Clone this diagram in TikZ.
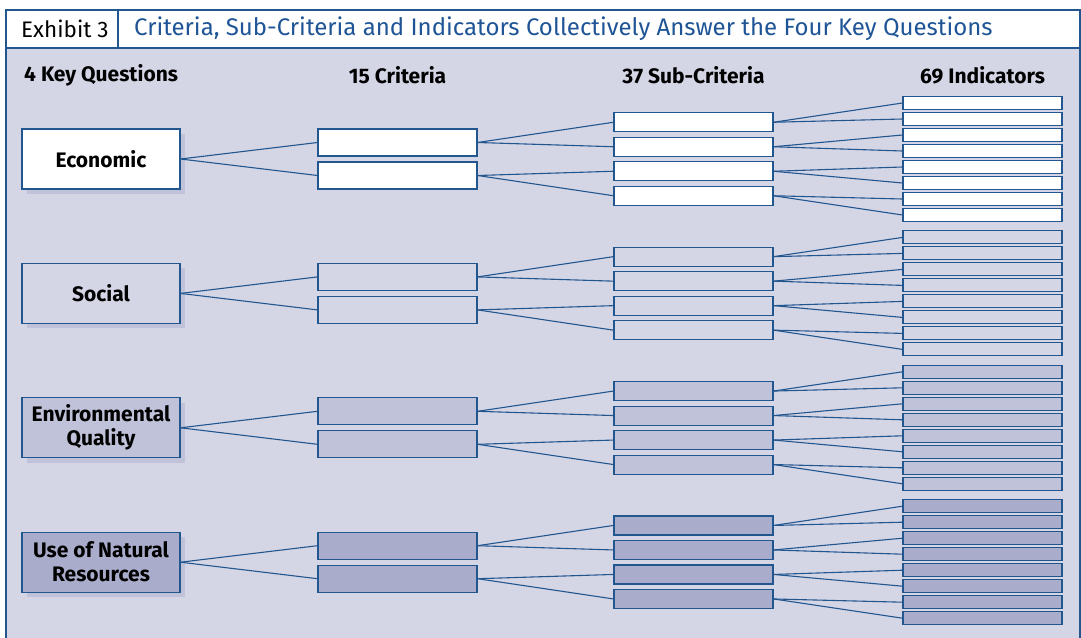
\documentclass[tikz,border=0pt]{standalone}
\usepackage{fontspec}
\setmainfont{Fira Sans}
\usetikzlibrary{positioning,shadows}
\definecolor{fundo}{HTML}{D4D6E6}
\definecolor{medio}{HTML}{BFC2D9}
\definecolor{escuro}{HTML}{A9ADCB}
\definecolor{sombra}{HTML}{BFC2D9}
\definecolor{linha}{HTML}{22568F}
\definecolor{titulo}{HTML}{1F5596}
\def\passo{134.4}
\tikzset{
  caixa/.style={draw=linha, line width=1.1pt, inner sep=0pt},
  questao/.style={caixa, minimum width=158pt, minimum height=60pt, align=center,
    font=\bfseries\fontsize{21}{24}\selectfont,
    drop shadow={shadow xshift=5pt, shadow yshift=-5pt, fill=sombra, opacity=1}},
  criterio/.style={caixa, minimum width=159pt, minimum height=27pt},
  subcriterio/.style={caixa, minimum width=159pt, minimum height=19pt},
  indicador/.style={caixa, minimum width=159pt, minimum height=13pt},
  ligacao/.style={linha, line width=1.1pt},
  coluna/.style={font=\bfseries\fontsize{21}{24}\selectfont, inner sep=0pt},
}

\begin{document}
\begin{tikzpicture}[x=1pt, y=-1pt]
  \useasboundingbox (0,0) rectangle (1081,637);

  % ---------------- moldura e faixa do título ----------------
  \draw[linha, line width=1.2pt, fill=fundo] (6,10) rectangle (1080,645);
  \draw[linha, line width=1.2pt, fill=white] (6,10) rectangle (1080,48);
  \draw[linha, line width=1.2pt] (118,10) -- (118,48);
  \node[anchor=west, inner sep=0pt, font=\fontsize{22.5}{24}\selectfont] (exib) at (21,29) {Exhibit 3};
  \node[anchor=west, inner sep=0pt, text=titulo, font=\fontsize{24}{26}\selectfont] (tit) at (134,29)
    {Criteria, Sub-Criteria and Indicators Collectively Answer the Four Key Questions};

  % ---------------- cabeçalhos das colunas ----------------
  \node[coluna, anchor=west] (col1) at (24,75) {4 Key Questions};
  \node[coluna] (col2) at (397.5,75) {15 Criteria};
  \node[coluna] (col3) at (693.5,75) {37 Sub-Criteria};
  \node[coluna] (col4) at (982.5,75) {69 Indicators};

  % ---------------- árvores: questão -> critérios -> subcritérios -> indicadores ----------------
  \foreach \g/\rotulo/\cor in {0/Economic/white, 1/Social/fundo,
      2/{Environmental\\Quality}/medio, 3/{Use of Natural\\Resources}/escuro} {
    \pgfmathsetmacro\yc{159+\passo*\g}
    \node[questao, fill=\cor] (q\g) at (101,\yc) {\rotulo};
    % dois critérios por questão
    \foreach \i in {1,2} {
      \node[criterio, fill=\cor] (c\g-\i) at (397.5,{\yc+(\i-1.5)*33}) {};
      \draw[ligacao] (q\g.east) -- (c\g-\i.west);
    }
    % quatro subcritérios, dois por critério
    \foreach \j in {1,...,4} {
      \pgfmathtruncatemacro\pai{(\j+1)/2}
      \node[subcriterio, fill=\cor] (s\g-\j) at (693.5,{\yc+(\j-2.5)*24.5}) {};
      \draw[ligacao] (c\g-\pai.east) -- (s\g-\j.west);
    }
    % oito indicadores, dois por subcritério
    \foreach \k in {1,...,8} {
      \pgfmathtruncatemacro\pai{(\k+1)/2}
      \node[indicador, fill=\cor] (i\g-\k) at (982.5,{\yc+(\k-4.5)*16}) {};
      \draw[ligacao] (s\g-\pai.east) -- (i\g-\k.west);
    }
  }
\end{tikzpicture}
\end{document}
